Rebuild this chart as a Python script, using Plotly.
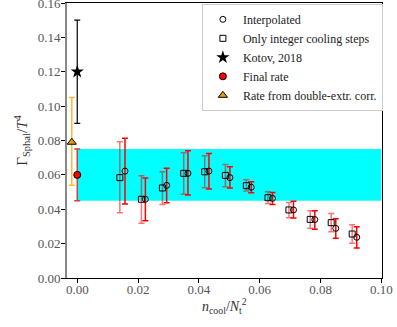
import plotly.graph_objects as go

# Interpolated (circles)
x_interp = [0.0157, 0.0224, 0.0294, 0.0364, 0.0433, 0.0502, 0.0572, 0.0642, 0.0711, 0.0781, 0.0850, 0.0919]
y_interp = [0.0622, 0.0458, 0.0539, 0.0609, 0.0622, 0.0584, 0.0528, 0.0463, 0.0396, 0.0340, 0.0289, 0.0237]
hi_interp = [0.0813, 0.0582, 0.0638, 0.0741, 0.0725, 0.0648, 0.0560, 0.0498, 0.0446, 0.0392, 0.0345, 0.0298]
lo_interp = [0.0430, 0.0333, 0.0438, 0.0483, 0.0518, 0.0524, 0.0496, 0.0427, 0.0349, 0.0283, 0.0231, 0.0175]

# Only integer cooling steps (squares)
x_int = [0.0140, 0.0211, 0.0280, 0.0350, 0.0419, 0.0487, 0.0556, 0.0627, 0.0696, 0.0766, 0.0835, 0.0904]
y_int = [0.0584, 0.0458, 0.0524, 0.0609, 0.0618, 0.0597, 0.0537, 0.0467, 0.0396, 0.0341, 0.0322, 0.0256]
hi_int = [0.0793, 0.0595, 0.0618, 0.0729, 0.0711, 0.0661, 0.0572, 0.0502, 0.0440, 0.0392, 0.0376, 0.0310]
lo_int = [0.0380, 0.0318, 0.0427, 0.0487, 0.0525, 0.0531, 0.0506, 0.0434, 0.0351, 0.0289, 0.0269, 0.0202]

# Kotov, 2018
x_kotov = [0.0]
y_kotov = [0.12]
hi_kotov = [0.15]
lo_kotov = [0.09]

# Final rate
x_final = [0.0]
y_final = [0.060]
hi_final = [0.075]
lo_final = [0.045]

# Rate from double-extr. corr.
x_dex = [-0.0018]
y_dex = [0.079]
hi_dex = [0.105]
lo_dex = [0.054]

band_lo, band_hi = 0.045, 0.075
band_x0, band_x1 = 0.0, 0.1

x_ticks = [0, 0.02, 0.04, 0.06, 0.08, 0.10]
x_ticklabels = ["0.00", "0.02", "0.04", "0.06", "0.08", "0.10"]
y_ticks = [0, 0.02, 0.04, 0.06, 0.08, 0.10, 0.12, 0.14, 0.16]
y_ticklabels = ["0.00", "0.02", "0.04", "0.06", "0.08", "0.10", "0.12", "0.14", "0.16"]


def plus(y, hi):
    return [h - v for v, h in zip(y, hi)]


def minus(y, lo):
    return [v - l for v, l in zip(y, lo)]


FONT = "Liberation Serif"
fig = go.Figure()

fig.add_shape(type="rect", x0=band_x0, x1=band_x1, y0=band_lo, y1=band_hi,
              xref="x", yref="y", fillcolor="#00ffff", line_width=0, layer="below")

fig.add_trace(go.Scatter(
    x=x_interp, y=y_interp, mode="markers", name="Interpolated",
    marker=dict(symbol="circle-open", size=6, color="black", line=dict(width=1, color="black")),
    error_y=dict(type="data", array=plus(y_interp, hi_interp), arrayminus=minus(y_interp, lo_interp),
                 color="red", thickness=1.5, width=3),
))
fig.add_trace(go.Scatter(
    x=x_int, y=y_int, mode="markers", name="Only integer cooling steps",
    marker=dict(symbol="square-open", size=6, color="black", line=dict(width=1, color="black")),
    error_y=dict(type="data", array=plus(y_int, hi_int), arrayminus=minus(y_int, lo_int),
                 color="rgba(255,0,0,0.55)", thickness=1.5, width=3),
))
fig.add_trace(go.Scatter(
    x=x_kotov, y=y_kotov, mode="markers", name="Kotov, 2018",
    marker=dict(symbol="star", size=10, color="black"),
    error_y=dict(type="data", array=plus(y_kotov, hi_kotov), arrayminus=minus(y_kotov, lo_kotov),
                 color="black", thickness=1.2, width=3),
))
fig.add_trace(go.Scatter(
    x=x_final, y=y_final, mode="markers", name="Final rate",
    marker=dict(symbol="circle", size=7, color="red", line=dict(width=1, color="black")),
    error_y=dict(type="data", array=plus(y_final, hi_final), arrayminus=minus(y_final, lo_final),
                 color="#d04040", thickness=1.5, width=3),
))
fig.add_trace(go.Scatter(
    x=x_dex, y=y_dex, mode="markers", name="Rate from double-extr. corr.",
    marker=dict(symbol="triangle-up", size=8, color="#e69a10", line=dict(width=1, color="black")),
    error_y=dict(type="data", array=plus(y_dex, hi_dex), arrayminus=minus(y_dex, lo_dex),
                 color="#ffb833", thickness=1.5, width=3),
))

# grey left spine as in the reference
fig.add_shape(type="line", xref="paper", yref="paper", x0=0, x1=0, y0=0, y1=1,
              line=dict(color="#888888", width=2), layer="above")

axis_common = dict(showgrid=False, zeroline=False, showline=True, linecolor="black", linewidth=1,
                   mirror=True, ticks="outside", ticklen=4, tickcolor="black",
                   ticklabeloverflow="allow", automargin=False,
                   tickfont=dict(family=FONT, size=13, color="#555555"))

fig.update_layout(
    width=397, height=327,
    margin=dict(l=66, r=15, t=3, b=49),
    paper_bgcolor="white", plot_bgcolor="white",
    font=dict(family=FONT, color="#333333"),
    xaxis=dict(range=[-0.0037, 0.1002], tickvals=x_ticks, ticktext=x_ticklabels,
               ticklabelstandoff=-5, **axis_common),
    yaxis=dict(range=[0, 0.16], tickvals=y_ticks, ticktext=y_ticklabels,
               ticklabelstandoff=-2,
               title=dict(text="Γ<sub>Sphal</sub>/<i>T</i><sup>4</sup>",
                          font=dict(family=FONT, size=15, color="#333333"), standoff=6),
               **axis_common),
    legend=dict(x=0.43, y=0.997, xanchor="left", yanchor="top",
                bgcolor="rgba(255,255,255,0.9)", bordercolor="#cccccc", borderwidth=1,
                font=dict(family=FONT, size=12, color="#222222"), itemwidth=30,
                tracegroupgap=0),
    showlegend=True,
    annotations=[dict(text="<i>n</i><sub>cool</sub>/<i>N</i><sub>t</sub><sup>2</sup>",
                      xref="paper", yref="paper", x=0.5, y=-0.1, xanchor="center", yanchor="middle",
                      showarrow=False, font=dict(family=FONT, size=14, color="#333333"))],
)

fig.write_html("out.html", config={"displayModeBar": False},
               post_script="document.body.style.margin='0';document.body.style.padding='0';")
